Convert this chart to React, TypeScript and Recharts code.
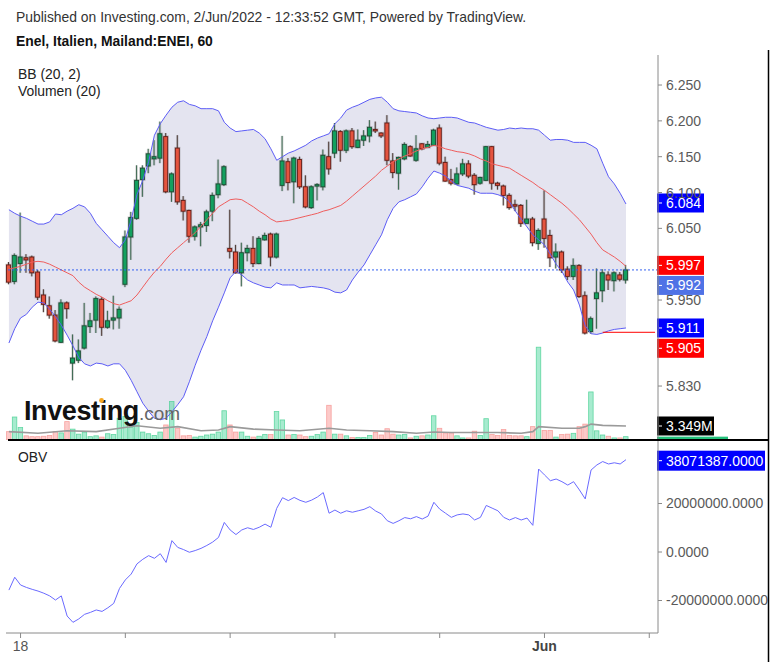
import React from 'react';
import { ComposedChart, Bar, Line, Area, XAxis, YAxis, ReferenceLine } from 'recharts';

// ---- data (hourly bars, 17 May 16:00 -> 2 Jun 14:00) ----
const opens = [5.999,5.976,6.001,6.009,6.010,5.989,5.957,5.942,5.929,5.891, 5.946,5.862,5.866,5.883,5.913,5.922,5.951,5.912,5.922,5.925, 5.972,6.038,6.064,6.118,6.137,6.147,6.148,6.178,6.101,6.162, 6.089,6.075,6.039,6.052,6.054,6.074,6.097,6.111,6.022,6.017, 5.988,6.016,6.022,6.001,6.034,6.042,6.010,6.110,6.143,6.115, 6.146,6.108,6.079,6.109,6.108,6.150,6.155,6.185,6.159,6.186, 6.163,6.173,6.179,6.188,6.183,6.197,6.144,6.127,6.147,6.164, 6.145,6.168,6.163,6.166,6.190,6.142,6.118,6.112,6.126,6.140, 6.124,6.113,6.117,6.164,6.113,6.109,6.096,6.083,6.082,6.057, 6.063,6.029,6.063,6.040,6.010,6.017,5.993,5.983,5.998,5.956, 5.906,5.952,5.963,5.985,5.977,5.985,5.978];
const highs = [6.003,6.015,6.072,6.014,6.012,5.992,5.965,5.955,5.936,5.951, 5.948,5.902,5.895,5.946,5.932,5.955,5.954,5.935,5.956,5.941, 6.047,6.073,6.138,6.138,6.161,6.173,6.199,6.183,6.128,6.180, 6.095,6.076,6.054,6.059,6.076,6.100,6.146,6.138,6.076,6.027, 6.030,6.027,6.039,6.039,6.044,6.044,6.044,6.179,6.148,6.150, 6.150,6.124,6.110,6.113,6.160,6.171,6.197,6.187,6.188,6.190, 6.188,6.187,6.201,6.199,6.184,6.208,6.155,6.150,6.170,6.166, 6.180,6.169,6.172,6.189,6.195,6.150,6.133,6.135,6.147,6.145, 6.127,6.122,6.165,6.165,6.115,6.111,6.099,6.090,6.084,6.090, 6.066,6.050,6.103,6.048,6.029,6.019,5.997,6.008,6.000,5.962, 5.927,5.994,5.993,5.990,5.990,5.989,5.999];
const lows = [5.972,5.972,5.988,5.988,5.983,5.950,5.933,5.924,5.891,5.890, 5.924,5.838,5.862,5.881,5.904,5.904,5.900,5.910,5.909,5.910, 5.968,6.006,6.062,6.094,6.127,6.138,6.141,6.099,6.087,6.083, 6.061,6.030,6.033,6.025,6.045,6.060,6.092,6.109,6.008,5.987, 5.969,6.004,5.996,6.000,6.033,5.997,6.008,6.102,6.103,6.085, 6.105,6.078,6.077,6.089,6.103,6.125,6.148,6.143,6.155,6.161, 6.162,6.165,6.170,6.183,6.176,6.138,6.120,6.104,6.145,6.150, 6.143,6.159,6.162,6.165,6.138,6.115,6.110,6.111,6.123,6.120, 6.097,6.111,6.116,6.104,6.104,6.082,6.076,6.074,6.052,6.057, 6.025,6.020,6.023,5.996,5.994,5.988,5.978,5.978,5.953,5.902, 5.903,5.910,5.947,5.964,5.962,5.976,5.973];
const closes = [5.975,6.012,6.010,6.006,5.988,5.954,5.944,5.929,5.893,5.946, 5.938,5.869,5.879,5.914,5.921,5.952,5.912,5.921,5.925,5.937, 6.038,6.065,6.117,6.134,6.154,6.150,6.182,6.101,6.126,6.087, 6.074,6.039,6.052,6.055,6.073,6.096,6.112,6.136,6.018,5.988, 6.016,6.022,6.001,6.036,6.040,6.010,6.042,6.144,6.114,6.148, 6.108,6.080,6.108,6.111,6.152,6.133,6.186,6.159,6.186,6.164, 6.173,6.179,6.191,6.186,6.179,6.145,6.128,6.149,6.167,6.151, 6.161,6.161,6.167,6.187,6.141,6.116,6.113,6.126,6.140,6.123, 6.111,6.121,6.164,6.113,6.110,6.096,6.079,6.081,6.057,6.063, 6.030,6.047,6.036,6.009,6.017,5.992,5.983,5.998,5.955,5.904, 5.924,5.960,5.988,5.978,5.988,5.979,5.992];
// volume, millions
const volumes = [2.0,5.5,3.0,1.0,0.8,0.8,0.9,1.1,2.0,1.7, 4.4,2.6,1.4,1.9,0.8,1.0,0.7,1.5,1.3,5.2, 5.6,3.0,4.2,1.9,1.5,1.1,1.9,3.6,9.2,2.8, 1.0,1.1,0.7,0.9,1.2,1.4,1.9,7.0,3.6,1.9, 1.9,0.9,0.7,0.9,1.3,1.3,6.8,4.8,1.2,1.3, 1.2,0.8,0.9,1.3,1.9,8.3,1.4,1.4,1.0,0.6, 0.6,0.6,1.1,1.8,1.2,2.7,1.4,1.2,1.3,0.5, 0.9,1.0,1.2,5.8,2.8,1.7,1.7,1.0,0.5,0.5, 2.1,1.1,5.1,1.3,1.1,2.5,1.1,1.0,1.0,0.8, 3.2,22.2,2.3,2.3,0.7,1.3,1.4,1.6,3.2,3.8, 11.5,2.2,1.2,0.9,0.5,0.5,0.8];
// volume moving average (20), millions (read at visible vertices)
const volMA = [2.0,null,null,null,null,1.6,null,null,null,null, 2.2,null,null,null,null,2.0,null,null,null,2.8, null,null,3.4,null,null,null,2.8,null,null,3.2, null,null,null,2.2,null,null,2.4,null,3.2,null, null,null,2.6,null,null,null,2.4,null,null,null, 2.2,null,null,null,null,2.8,null,null,2.4,null, null,null,2.2,null,null,null,2.0,null,null,null, 1.6,null,null,1.9,null,null,1.8,null,null,null, 1.8,null,null,null,1.8,null,null,null,1.6,null, 2.0,3.2,null,null,null,2.8,null,null,2.8,3.2, 3.8,null,3.5,null,null,null,3.349];
const bbUpper = [6.076,6.071,6.067,6.064,6.060,6.056,6.056,6.059,6.070,6.069, 6.074,6.078,6.083,6.080,6.071,6.057,6.048,6.039,6.030,6.023, 6.034,6.062,6.097,6.117,6.143,6.180,6.196,6.208,6.219,6.226, 6.228,6.223,6.221,6.217,6.217,6.217,6.214,6.198,6.190,6.185, 6.186,6.187,6.188,6.183,6.175,6.161,6.145,6.150,6.155,6.158, 6.162,6.166,6.172,6.176,6.179,6.182,6.196,6.204,6.215,6.219, 6.222,6.226,6.230,6.232,6.233,6.226,6.217,6.214,6.213,6.212, 6.211,6.207,6.204,6.203,6.204,6.205,6.205,6.204,6.201,6.198, 6.197,6.194,6.191,6.189,6.187,6.188,6.190,6.189,6.190,6.189, 6.189,6.187,6.180,6.173,6.174,6.174,6.173,6.170,6.170,6.170, 6.166,6.161,6.141,6.122,6.112,6.099,6.084];
const bbMiddle = [5.993,5.995,5.997,6.000,6.003,6.004,6.003,6.000,5.996,5.992, 5.988,5.984,5.975,5.968,5.963,5.958,5.954,5.949,5.945,5.943, 5.946,5.949,5.957,5.968,5.979,5.989,5.997,6.007,6.016,6.023, 6.030,6.037,6.044,6.053,6.062,6.071,6.080,6.085,6.090,6.091, 6.090,6.085,6.080,6.074,6.069,6.063,6.059,6.060,6.061,6.063, 6.065,6.067,6.069,6.071,6.074,6.076,6.079,6.082,6.088,6.095, 6.102,6.109,6.116,6.123,6.131,6.137,6.143,6.147,6.151,6.154, 6.158,6.161,6.163,6.166,6.164,6.161,6.159,6.157,6.156,6.154, 6.151,6.147,6.144,6.140,6.138,6.136,6.134,6.129,6.124,6.119, 6.114,6.108,6.103,6.097,6.091,6.085,6.078,6.070,6.062,6.052, 6.042,6.030,6.020,6.015,6.010,6.004,5.997];
const bbLower = [5.890,5.910,5.925,5.930,5.940,5.947,5.946,5.937,5.927,5.915, 5.901,5.886,5.870,5.861,5.858,5.862,5.861,5.858,5.861,5.861, 5.852,5.838,5.822,5.806,5.795,5.785,5.783,5.785,5.794,5.804, 5.815,5.836,5.859,5.880,5.899,5.921,5.940,5.960,5.981,5.990, 5.985,5.978,5.974,5.971,5.968,5.967,5.974,5.971,5.971,5.971, 5.967,5.968,5.969,5.968,5.967,5.965,5.961,5.960,5.964,5.978, 5.989,5.999,6.013,6.027,6.041,6.062,6.078,6.087,6.090,6.094, 6.098,6.108,6.120,6.130,6.127,6.123,6.116,6.110,6.108,6.106, 6.102,6.099,6.099,6.099,6.097,6.094,6.087,6.074,6.063,6.052, 6.041,6.034,6.027,6.014,6.000,5.990,5.975,5.964,5.943,5.914, 5.903,5.902,5.904,5.907,5.909,5.910,5.911];
// On-balance volume, millions
const obv = [-15.7,-10.4,-13.6,-14.6,-15.4,-16.1,-17.0,-18.1,-19.8,-18.1, -26.4,-29.0,-27.6,-25.7,-24.9,-23.9,-24.5,-23.0,-21.2,-15.0, -11.5,-9.1,-4.9,-3.0,-1.5,-2.6,-0.7,-4.3,4.7,1.9, 1.0,-0.1,0.6,1.5,2.7,4.1,6.0,12.2,9.1,7.2, 9.1,10.0,9.3,10.2,11.5,10.2,18.0,22.4,21.2,22.5, 21.3,20.5,21.4,22.7,24.5,16.0,17.3,16.0,17.0,16.4, 17.0,17.6,18.7,16.9,15.7,12.9,11.8,12.9,14.2,13.7, 14.6,13.6,14.8,20.5,17.7,16.0,14.3,15.3,15.7,15.3, 13.2,14.3,19.2,18.1,17.0,14.3,13.2,14.2,13.2,14.0, 11.0,34.2,31.8,29.4,30.1,29.0,27.6,29.0,25.6,21.9, 33.8,35.9,37.3,36.3,36.8,36.3,38.071387];

const priceTicks = [5.83, 5.95, 6.05, 6.1, 6.15, 6.2, 6.25];
const obvTicks = [-20, 0, 20];
const xTickIdx = [2, 20, 38, 56, 74, 92, 110];
const xTickLabels = ['18', '', '', '', '', 'Jun', ''];
const SLOTS = 112;

const rows = Array.from({ length: SLOTS }, (_, i) => {
  const has = i < opens.length;
  return {
    t: 't' + i,
    o: has ? opens[i] : null,
    h: has ? highs[i] : null,
    l: has ? lows[i] : null,
    c: has ? closes[i] : null,
    vol: has ? volumes[i] : null,
    vma: has ? volMA[i] : null,
    up: has ? bbUpper[i] : null,
    mid: has ? bbMiddle[i] : null,
    lo: has ? bbLower[i] : null,
    obv: has ? obv[i] : null,
  };
});

const FONT = 'Arial, "Liberation Sans", sans-serif';
const AXIS_X = 657;

const renderCandle = (p: any) => {
  const { x, y, width, height, payload } = p;
  if (!payload || payload.o == null || y == null || isNaN(y)) return <g />;
  const { o, h, l, c } = payload;
  const cx = x + width / 2;
  const k = h > l ? height / (h - l) : 0;
  const yTop = y + (h - Math.max(o, c)) * k;
  const yBot = y + (h - Math.min(o, c)) * k;
  const up = c >= o;
  const bh = Math.max(yBot - yTop, 1.2);
  return (
    <g>
      <line x1={cx} x2={cx} y1={y} y2={y + height} stroke="rgba(90,90,90,0.25)" strokeWidth={2.6} />
      <rect x={cx - 2} y={yTop} width={4} height={bh} fill="none" stroke="rgba(90,90,90,0.28)" strokeWidth={2.4} />
      <line x1={cx} x2={cx} y1={y} y2={y + height} stroke={up ? '#3d6a52' : '#4e3b36'} strokeWidth={1} />
      <rect x={cx - 2} y={yTop} width={4} height={bh} fill={up ? '#13a05f' : '#e4543f'} stroke={up ? '#1c4c33' : '#651b15'} strokeWidth={0.9} />
    </g>
  );
};

const renderVol = (p: any) => {
  const { x, y, width, height, payload } = p;
  if (!payload || payload.vol == null || y == null || isNaN(y)) return <g />;
  const up = payload.c >= payload.o;
  return (
    <rect x={x + 0.5} y={y} width={width - 0.5} height={Math.max(height, 0.5)}
      fill={up ? 'rgba(80,215,160,0.5)' : 'rgba(250,150,148,0.5)'}
      stroke={up ? 'rgba(60,205,140,0.75)' : 'rgba(245,140,138,0.75)'} strokeWidth={0.8} />
  );
};

const BoxLabel = (props: any) => {
  const { viewBox, text, bg, dy = 0, w = 47, h = 19 } = props;
  if (!viewBox) return null;
  const cy = viewBox.y + dy;
  return (
    <g>
      <rect x={AXIS_X} y={cy - h / 2} width={w} height={h} fill={bg} />
      <line x1={AXIS_X + 2} x2={AXIS_X + 5} y1={cy} y2={cy} stroke="#fff" strokeWidth={1} />
      <text x={AXIS_X + 9} y={cy} dy="0.36em" fill="#fff" fontSize={14} fontFamily={FONT}>{text}</text>
    </g>
  );
};

const StripLabel = (props: any) => {
  const { viewBox } = props;
  if (!viewBox) return null;
  const top = viewBox.y;
  return <rect x={AXIS_X} y={top} width={71} height={Math.max(440 - top, 0)} fill="#22c07a" />;
};

const XTick = (props: any) => {
  const { x, y, payload } = props;
  const idx = xTickIdx.indexOf(Number(String(payload.value).slice(1)));
  const label = idx >= 0 ? xTickLabels[idx] : '';
  if (!label) return <g />;
  const bold = label === 'Jun';
  return (
    <text x={x} y={y} dy="0.71em" textAnchor="middle" fontSize={14} fontFamily={FONT}
      fill={bold ? '#444' : '#555'} fontWeight={bold ? 'bold' : 'normal'}>{label}</text>
  );
};

export default function App() {
  return (
    <div style={{ position: 'fixed', left: 0, top: 0, width: 777, height: 662, background: '#fff', overflow: 'hidden', fontFamily: FONT }}>
      <div style={{ position: 'absolute', left: 0, top: 0 }}>
        <ComposedChart width={777} height={440} data={rows} margin={{ top: 55, right: 0, bottom: 0, left: 6 }} barGap={-5} barCategoryGap={0}>
          <XAxis dataKey="t" hide scale="band" />
          <YAxis yAxisId="p" orientation="right" width={119} domain={[5.7547, 6.2919]} allowDataOverflow
            ticks={priceTicks} interval={0} tickFormatter={(v: number) => v.toFixed(3)}
            tick={{ fill: '#5a5a5a', fontSize: 14, fontFamily: FONT }} tickSize={4} tickMargin={4}
            axisLine={{ stroke: '#8a8a8a' }} tickLine={{ stroke: '#8a8a8a' }} />
          <YAxis yAxisId="v" hide domain={[0, 92.1]} allowDataOverflow />
          <Area yAxisId="p" dataKey={(d: any) => (d.up == null ? null : [d.lo, d.up])} fill="#e4e4f0" fillOpacity={1} stroke="none" isAnimationActive={false} />
          <Bar yAxisId="v" dataKey="vol" barSize={5} shape={renderVol} isAnimationActive={false} />
          <Line yAxisId="v" dataKey="vma" stroke="#9a9a9a" strokeWidth={1.6} dot={false} connectNulls isAnimationActive={false} />
          <Line yAxisId="p" dataKey="up" stroke="#5d5df6" strokeWidth={1} dot={false} isAnimationActive={false} />
          <Line yAxisId="p" dataKey="lo" stroke="#5d5df6" strokeWidth={1} dot={false} isAnimationActive={false} />
          <Line yAxisId="p" dataKey="mid" stroke="#ef5d5d" strokeWidth={1} dot={false} isAnimationActive={false} />
          <ReferenceLine yAxisId="p" y={5.992} stroke="#3462f0" strokeDasharray="2 2" strokeWidth={1} />
          <Bar yAxisId="p" dataKey={(d: any) => (d.o == null ? null : [d.l, d.h])} barSize={5} shape={renderCandle} isAnimationActive={false} />
          <ReferenceLine yAxisId="p" segment={[{ x: 't102', y: 5.905 }, { x: 't111', y: 5.905 }]} stroke="#ff0000" strokeWidth={1} />
          <ReferenceLine yAxisId="p" y={6.084} stroke="none" label={<BoxLabel text="6.084" bg="#0000ff" dy={-1} />} />
          <ReferenceLine yAxisId="p" y={5.997} stroke="none" label={<BoxLabel text="5.997" bg="#ff0000" dy={-1} />} />
          <ReferenceLine yAxisId="p" y={5.992} stroke="none" label={<BoxLabel text="5.992" bg="#4f72e6" dy={15.5} />} />
          <ReferenceLine yAxisId="p" y={5.911} stroke="none" label={<BoxLabel text="5.911" bg="#0000ff" dy={0} />} />
          <ReferenceLine yAxisId="p" y={5.905} stroke="none" label={<BoxLabel text="5.905" bg="#ff0000" dy={16} />} />
          <ReferenceLine yAxisId="v" y={volumes[volumes.length - 1]} stroke="none" label={<StripLabel />} />
          <ReferenceLine yAxisId="v" y={3.349} stroke="none" label={<BoxLabel text="3.349M" bg="#000000" w={57} />} />
        </ComposedChart>
      </div>
      <div style={{ position: 'absolute', left: 0, top: 440 }}>
        <ComposedChart width={777} height={222} data={rows} margin={{ top: 0, right: 0, bottom: 0, left: 6 }}>
          <XAxis dataKey="t" scale="band" height={29} ticks={xTickIdx.map((i) => 't' + i)} interval={0}
            tick={<XTick />} tickSize={5} tickMargin={3} axisLine={{ stroke: '#8a8a8a' }} tickLine={{ stroke: '#8a8a8a' }} />
          <YAxis orientation="right" width={119} domain={[-33.4, 46.19]} allowDataOverflow ticks={obvTicks} interval={0}
            tickFormatter={(v: number) => (v * 1e6).toFixed(4)}
            tick={{ fill: '#5a5a5a', fontSize: 14, fontFamily: FONT }} tickSize={4} tickMargin={4}
            axisLine={{ stroke: '#8a8a8a' }} tickLine={{ stroke: '#8a8a8a' }} />
          <Line dataKey="obv" stroke="#6a6aff" strokeWidth={1} dot={false} isAnimationActive={false} />
          <ReferenceLine y={38.071387} stroke="none" label={<BoxLabel text="38071387.0000" bg="#0000ff" w={108} h={20} dy={1} />} />
        </ComposedChart>
      </div>
      <svg width={777} height={662} style={{ position: 'absolute', left: 0, top: 0, pointerEvents: 'none' }}>
        <text x={16} y={22} fontSize={13.9} fill="#333" fontFamily={FONT}>Published on Investing.com, 2/Jun/2022 - 12:33:52 GMT, Powered by TradingView.</text>
        <text x={16} y={45.5} fontSize={13.9} fontWeight="bold" fill="#111" fontFamily={FONT}>Enel, Italien, Mailand:ENEI, 60</text>
        <text x={18} y={78.5} fontSize={13.9} fill="#222" fontFamily={FONT}>BB (20, 2)</text>
        <text x={18} y={95.5} fontSize={13.9} fill="#222" fontFamily={FONT}>Volumen (20)</text>
        <text x={18} y={462} fontSize={13.9} fill="#222" fontFamily={FONT}>OBV</text>
        <text x={24} y={420} fontSize={27} fontWeight="bold" fill="#111" fontFamily={FONT} letterSpacing={-0.4}>
          Investing<tspan fontWeight="normal" fill="#666" fontSize={19} letterSpacing={0}>.com</tspan>
        </text>
        <circle cx={101.5} cy={400.5} r={2.4} fill="#f5a623" />
        <line x1={8} x2={769} y1={440} y2={440} stroke="#000" strokeWidth={2} />
        <rect x={769} y={0} width={8} height={662} fill="#fff" />
        <line x1={768.5} x2={768.5} y1={50} y2={662} stroke="#000" strokeWidth={1.5} />
      </svg>
    </div>
  );
}
